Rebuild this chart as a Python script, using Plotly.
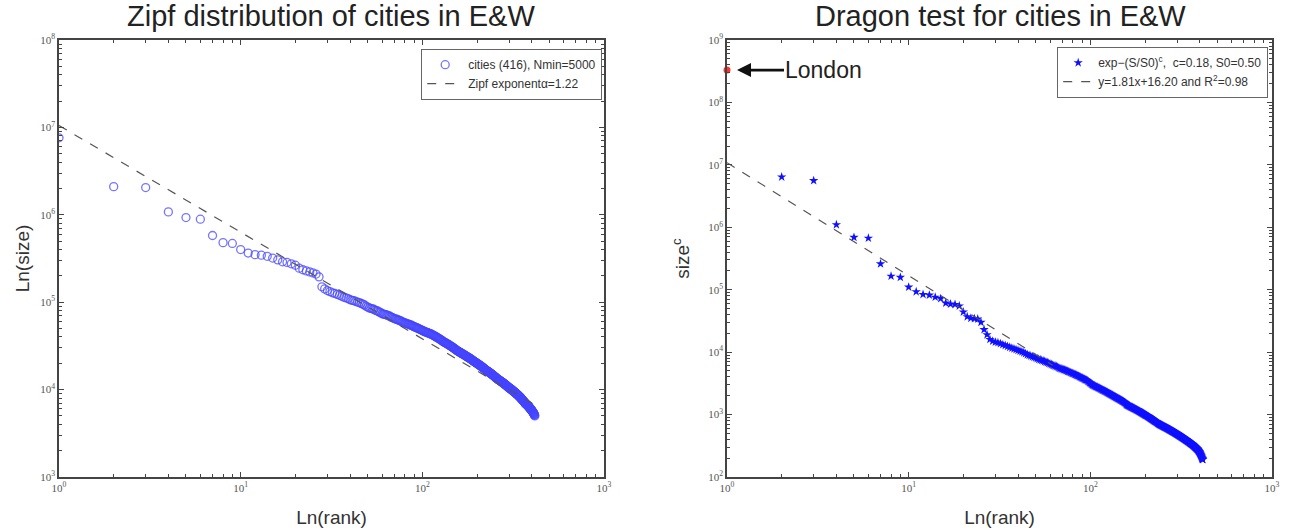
import math
import plotly.graph_objects as go

# ---------------- data ----------------
# Left panel: city sizes (thousands of inhabitants), ordered by rank
size_thousands = [
    7600, 2100, 2050, 1080, 930, 890, 580, 480, 470, 400,
    365, 350, 345, 335, 320, 305, 290, 285, 275, 265,
    245, 235, 228, 222, 216, 210, 195, 150, 142, 136,
    132, 128, 126, 123, 120, 117, 114, 112, 110, 107,
    105, 104, 102, 100, 99, 97, 95, 93, 90, 88,
    86, 85, 84, 83, 81, 80, 79, 77, 76, 74,
    73, 72.5, 72, 71, 70, 69.5, 68, 67, 66, 65,
    64.5, 64, 63, 62.5, 62, 61, 60, 59.5, 58.5, 58,
    57.5, 57, 56.5, 56, 55.5, 55, 54.5, 54, 53, 52.5, 52, 51.5,
    51, 50.5, 50, 49.5, 49, 48.5, 48, 47.5,
    47, 46.5, 46, 45.8, 45.5, 45, 44.8, 44.5, 44, 43.7, 43.3, 43, 42.7,
    42.3, 41.8, 41.4, 41, 40.5, 40.1, 39.7, 39.3, 38.9, 38.5, 38.1, 37.7, 37.3, 36.9, 36.5, 36, 35.5,
    35.2, 34.9, 34.6, 34.3, 34, 33.7, 33.4, 33.1, 32.8, 32.5,
    32.2, 31.9, 31.6, 31.3, 31, 30.7, 30.4, 30.1, 29.8, 29.5,
    29.2, 28.9, 28.6, 28.3, 28, 27.8, 27.6, 27.4, 27.1, 26.9,
    26.7, 26.5, 26.3, 26.1, 25.9, 25.7, 25.5, 25.3, 25.2, 25,
    24.8, 24.6, 24.4, 24.2, 24, 23.9, 23.7, 23.5, 23.3, 23.2,
    23, 22.9, 22.7, 22.5, 22.3, 22.2, 22, 21.8, 21.6, 21.4,
    21.3, 21.1, 21, 20.8, 20.7, 20.5, 20.4, 20.3, 20.1, 20,
    19.8, 19.7, 19.5, 19.4, 19.3, 19.1, 19, 18.9, 18.7, 18.6,
    18.5, 18.3, 18.2, 18.1, 17.9, 17.8, 17.7, 17.5, 17.4, 17.3,
    17.1, 17, 16.9, 16.7, 16.6,
    16.5, 16.4, 16.3, 16.2, 16.1, 16, 15.9, 15.8, 15.7, 15.6,
    15.5, 15.4, 15.3, 15.2, 15.1, 15, 14.9, 14.8, 14.7, 14.6,
    14.5, 14.4, 14.3, 14.2, 14.1, 14, 13.9, 13.8, 13.7, 13.6,
    13.5, 13.45, 13.4, 13.3, 13.2,
    13.1, 13.0, 12.95, 12.9, 12.8, 12.75, 12.7, 12.6, 12.55, 12.5,
    12.4, 12.35, 12.3, 12.2, 12.15, 12.1, 12.0, 11.95, 11.9, 11.8,
    11.75, 11.7, 11.6, 11.55, 11.5, 11.4, 11.35, 11.3, 11.2, 11.15,
    11.1, 11.0, 10.95, 10.9, 10.8, 10.75, 10.7, 10.6, 10.55, 10.5,
    10.45, 10.4, 10.35, 10.3, 10.25, 10.2, 10.15, 10.1, 10.05, 10.0,
    9.95, 9.9, 9.8,
    9.75, 9.7, 9.65, 9.6, 9.55, 9.5, 9.45, 9.4, 9.35, 9.3,
    9.25, 9.2, 9.15, 9.1, 9.05, 9.0, 8.95, 8.9, 8.85, 8.8,
    8.75, 8.7, 8.65, 8.6, 8.55, 8.5, 8.45, 8.4, 8.35, 8.3,
    8.25, 8.2, 8.15, 8.1, 8.05, 8.0, 7.9,
    7.85, 7.8, 7.75, 7.7, 7.65, 7.6, 7.55, 7.5, 7.45, 7.4,
    7.35, 7.3, 7.25, 7.2, 7.15, 7.1, 7.05, 7.0, 6.96, 6.92,
    6.88, 6.84, 6.8, 6.77, 6.74, 6.71, 6.68, 6.65, 6.62, 6.6,
    6.55, 6.5, 6.46, 6.42, 6.38, 6.34, 6.3, 6.26, 6.22, 6.18,
    6.14, 6.1, 6.06, 6.02, 5.98, 5.94, 5.9, 5.86, 5.82, 5.78,
    5.74, 5.7, 5.66, 5.62, 5.58, 5.54, 5.5, 5.45, 5.4, 5.35,
    5.3, 5.25, 5.2, 5.15, 5.08, 5.0,
]

# Right panel: transformed sizes (size^c), ordered by rank (rank 1 = London)
dragon_values = [
    3.3e8, 6.4e6, 5.6e6, 1.1e6, 6.9e5, 6.7e5, 2.6e5, 1.65e5, 1.58e5, 1.1e5,
    93000, 84000, 82000, 76000, 72000, 61000, 59000, 58000, 55000, 44000,
    37000, 35000, 34500, 34000, 30000, 23000, 19000, 16000, 15000, 14500,
    14200, 13700, 13200, 12800, 12400, 12000, 11600, 11300, 11000, 10700,
    10400, 10100, 9800, 9500, 9100,
    8900, 8700, 8500, 8300, 8100, 7900, 7700, 7550, 7400, 7250,
    7100, 6950, 6800, 6650, 6500, 6350, 6200, 6100, 6000, 5900, 5750, 5600,
    5500, 5420, 5340, 5260, 5180, 5100, 5020, 4940, 4860, 4780, 4700,
    4620, 4550, 4480, 4410, 4340, 4270, 4200, 4130, 4060, 3990, 3920,
    3860, 3800, 3740, 3680, 3620, 3560, 3500, 3420, 3340, 3260, 3180, 3100, 3020,
    2980, 2940, 2900, 2860, 2820, 2785, 2750, 2715, 2680, 2645,
    2610, 2575, 2540, 2505, 2470, 2440, 2410, 2380, 2350, 2320,
    2290, 2260, 2230, 2200, 2170, 2145, 2120, 2095, 2070, 2045,
    2020, 1995, 1970, 1945, 1920, 1895, 1870, 1850, 1830, 1810,
    1790, 1770, 1750, 1730, 1710, 1690, 1670, 1650, 1630, 1610,
    1590, 1570, 1550, 1525, 1490, 1450,
    1430, 1417, 1405, 1392, 1380, 1368, 1356, 1344, 1332, 1320,
    1309, 1298, 1287, 1276, 1265, 1254, 1243, 1232, 1221, 1210,
    1198, 1188, 1178, 1168, 1158, 1148, 1138, 1128, 1117, 1107,
    1097, 1088, 1078, 1069, 1059, 1050, 1041, 1031, 1022, 1013,
    1004, 995, 987, 978, 970, 961, 953, 944, 936, 927,
    919, 911, 903, 895, 887, 879, 872, 864, 856, 849,
    841, 834, 826, 819, 812, 805, 798, 791, 784, 777,
    770, 764, 757, 751, 744, 737, 731, 724, 718, 711,
    705, 699,
    695, 691, 687, 683, 679, 675, 671, 667, 663, 659,
    655, 651, 647, 643, 639, 635, 631, 628, 624, 620,
    617, 613, 610, 606, 603, 599, 596, 592, 589, 585,
    581, 578, 574, 571, 567, 564, 561, 557, 554, 550,
    547, 544, 541, 537, 534, 531, 528, 524, 521, 518,
    515, 512, 509, 506, 503, 500, 497, 494, 491, 488,
    485, 482, 479, 476, 473, 470, 468, 465, 462, 459,
    457, 454, 451, 449, 446, 443, 441, 438, 435, 433,
    430, 428, 425, 423, 420, 418, 415, 413, 410, 408,
    405, 403, 400, 398, 396, 393, 391, 389, 386, 384,
    382, 380, 377, 375, 373, 371, 369, 367, 365, 363,
    359, 357, 355, 353, 351, 349, 347, 345, 343, 341,
    338, 337, 335, 333, 331,
    328, 326, 324, 321, 319, 317, 315, 313, 311, 308,
    306, 304, 302, 300, 297, 295, 293, 291, 289, 286,
    284, 282, 280, 277, 275,
    272, 269, 266, 263, 260, 257, 254, 251, 248, 245,
    242, 238, 234, 230, 226, 222, 218, 214, 210, 206,
    202, 199, 196, 194, 192, 190,
]

zipf_alpha = 1.22
zipf_prefactor = 1.05e7
fit_slope = -1.81
fit_intercept = 16.20
fit_last_rank = 62

sizes = [v * 1000 for v in size_thousands]
ranks_left = list(range(1, len(sizes) + 1))
ranks_right = list(range(1, len(dragon_values) + 1))

zipf_x = [1, len(sizes)]
zipf_y = [zipf_prefactor * r ** (-zipf_alpha) for r in zipf_x]
fit_x = [1, fit_last_rank]
fit_y = [math.exp(fit_intercept + fit_slope * math.log(r)) for r in fit_x]

# ---------------- figure ----------------
W, H = 1304, 531
def px_x(p):
    return p / W
def px_y(p):
    return 1 - p / H

fig = go.Figure()

fig.add_trace(go.Scatter(
    x=ranks_left, y=sizes, mode="markers", xaxis="x", yaxis="y",
    name="cities (416), Nmin=5000", legend="legend",
    marker=dict(symbol="circle-open", size=8, color="rgba(70,70,255,0.75)",
                line=dict(width=1.3)),
))
fig.add_trace(go.Scatter(
    x=zipf_x, y=zipf_y, mode="lines", xaxis="x", yaxis="y",
    name="Zipf exponentα=1.22", legend="legend",
    line=dict(color="#555555", width=1.2, dash="dash"),
))

fig.add_trace(go.Scatter(
    x=ranks_right[1:], y=dragon_values[1:], mode="markers", xaxis="x2", yaxis="y2",
    name="exp−(S/S0)<sup>c</sup>,  c=0.18, S0=0.50", legend="legend2",
    marker=dict(symbol="star", size=7, color="#1010ff", line=dict(width=0)),
))
fig.add_trace(go.Scatter(
    x=fit_x, y=fit_y, mode="lines", xaxis="x2", yaxis="y2",
    name="y=1.81x+16.20 and R<sup>2</sup>=0.98", legend="legend2",
    line=dict(color="#555555", width=1.2, dash="dash"),
))
fig.add_trace(go.Scatter(
    x=ranks_right[:1], y=dragon_values[:1], mode="markers", xaxis="x2", yaxis="y2",
    showlegend=False, cliponaxis=False,
    marker=dict(symbol="circle", size=7, color="#ff3030"),
))

x_ticks = [1, 10, 100, 1000]
x_ticktext = ["10<sup>%d</sup>" % i for i in range(4)]
minor_x = [m * 10 ** d for d in range(0, 3) for m in range(2, 10)]

tickfont = dict(family="Liberation Serif", size=11, color="#555555")
axis_common = dict(
    type="log", showgrid=False, zeroline=False, automargin=False,
    showline=True, linecolor="#444444", linewidth=1.5, mirror="ticks",
    ticks="inside", ticklen=5, tickcolor="#444444", tickwidth=1,
    tickfont=tickfont,
)
title_font = dict(size=19, color="#333333")

left_dom = [px_x(59), px_x(604)]
right_dom = [px_x(727), px_x(1272)]
y_dom = [px_y(477), px_y(40)]

fig.update_layout(
    width=W, height=H, margin=dict(l=0, r=0, t=0, b=0, autoexpand=False),
    plot_bgcolor="white", paper_bgcolor="white",
    font=dict(family="Liberation Sans", color="#222222"),
    xaxis=dict(axis_common, domain=left_dom, range=[0, 3], anchor="y",
               tickmode="array", tickvals=x_ticks, ticktext=x_ticktext,
               minor=dict(tickvals=minor_x, ticks="inside", ticklen=3, tickcolor="#444444"),
               title=dict(text="Ln(rank)", font=title_font, standoff=18)),
    yaxis=dict(axis_common, domain=y_dom, range=[3, 8], anchor="x",
               tickmode="array", tickvals=[10 ** k for k in range(3, 9)],
               ticktext=["10<sup>%d</sup>" % k for k in range(3, 9)],
               minor=dict(tickvals=[m * 10 ** d for d in range(3, 8) for m in range(2, 10)],
                          ticks="inside", ticklen=3, tickcolor="#444444"),
               title=dict(text="Ln(size)", font=title_font, standoff=6)),
    xaxis2=dict(axis_common, domain=right_dom, range=[0, 3], anchor="y2",
                tickmode="array", tickvals=x_ticks, ticktext=x_ticktext,
                minor=dict(tickvals=minor_x, ticks="inside", ticklen=3, tickcolor="#444444"),
                title=dict(text="Ln(rank)", font=title_font, standoff=18)),
    yaxis2=dict(axis_common, domain=y_dom, range=[2, 9], anchor="x2",
                tickmode="array", tickvals=[10 ** k for k in range(2, 10)],
                ticktext=["10<sup>%d</sup>" % k for k in range(2, 10)],
                minor=dict(tickvals=[m * 10 ** d for d in range(2, 9) for m in range(2, 10)],
                           ticks="inside", ticklen=3, tickcolor="#444444"),
                title=dict(text="size<sup>c</sup>", font=title_font, standoff=14)),
    legend=dict(x=px_x(602), y=px_y(49), xanchor="right", yanchor="top",
                bgcolor="white", bordercolor="#666666", borderwidth=1.2,
                font=dict(size=12, color="#333333"), tracegroupgap=0,
                itemwidth=36),
    legend2=dict(x=px_x(1268), y=px_y(47), xanchor="right", yanchor="top",
                 bgcolor="white", bordercolor="#666666", borderwidth=1.2,
                 font=dict(size=12, color="#333333"), tracegroupgap=0,
                 itemwidth=30),
    annotations=[
        dict(text="Zipf distribution of cities in E&W", xref="paper", yref="paper",
             x=px_x(331), y=px_y(16), xanchor="center", yanchor="middle", showarrow=False,
             font=dict(size=29, color="#222222")),
        dict(text="Dragon test for cities in E&W", xref="paper", yref="paper",
             x=px_x(1000), y=px_y(16), xanchor="center", yanchor="middle", showarrow=False,
             font=dict(size=29, color="#222222")),
        dict(text="London", xref="x2", yref="y2", x=0.055, y=math.log10(dragon_values[0]),
             ax=87, ay=0, showarrow=True, arrowhead=2, arrowsize=1, arrowwidth=2.8,
             arrowcolor="#111111", font=dict(size=23, color="#222222")),
    ],
)

# the page's default 8px body margin would push the 1304x531 figure off-window
fig.write_html("out.html", config={"displayModeBar": False},
               post_script="document.body.style.margin='0';")
